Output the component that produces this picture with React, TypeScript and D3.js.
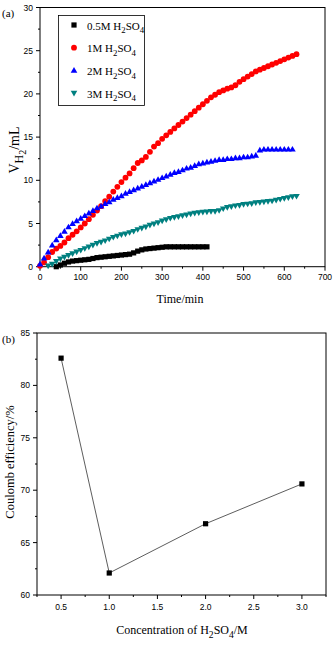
import React from 'react'
import * as d3 from 'd3'

// hydrogen volume vs. time for each acid concentration: [time (min), volume (mL)]
const half: [number, number][] = [
  [40, 0.0], [50, 0.2], [60, 0.4], [70, 0.55], [80, 0.65], [90, 0.7], [100, 0.75], [110, 0.8],
  [120, 0.85], [130, 0.95], [140, 1.05], [150, 1.1], [160, 1.15], [170, 1.2], [180, 1.25], [190, 1.3],
  [200, 1.35], [210, 1.4], [220, 1.45], [230, 1.6], [240, 1.8], [250, 1.95], [260, 2.05], [270, 2.1],
  [280, 2.15], [290, 2.2], [300, 2.25], [310, 2.3], [320, 2.3], [330, 2.3], [340, 2.3], [350, 2.3],
  [360, 2.3], [370, 2.3], [380, 2.3], [390, 2.3], [400, 2.3], [410, 2.3],
]
const one: [number, number][] = [
  [0, 0.1], [10, 0.5], [20, 1.1], [30, 1.7], [40, 2.1], [50, 2.4], [60, 2.8], [70, 3.3],
  [80, 3.7], [90, 4.1], [100, 4.55], [110, 5.0], [120, 5.5], [130, 6.0], [140, 6.5], [150, 7.0],
  [160, 7.6], [170, 8.1], [180, 8.7], [190, 9.25], [200, 9.8], [210, 10.3], [220, 10.8], [230, 11.4],
  [240, 12.0], [250, 12.3], [260, 12.7], [270, 13.3], [280, 13.9], [290, 14.3], [300, 14.8], [310, 15.2],
  [320, 15.6], [330, 16.0], [340, 16.4], [350, 16.8], [360, 17.2], [370, 17.6], [380, 18.0], [390, 18.4],
  [400, 18.8], [410, 19.2], [420, 19.6], [430, 19.9], [440, 20.2], [450, 20.4], [460, 20.6], [470, 20.75],
  [480, 21.0], [490, 21.4], [500, 21.7], [510, 22.0], [520, 22.3], [530, 22.6], [540, 22.8], [550, 23.0],
  [560, 23.2], [570, 23.4], [580, 23.6], [590, 23.8], [600, 24.0], [610, 24.2], [620, 24.4], [630, 24.6],
]
const two: [number, number][] = [
  [0, 0.3], [10, 1.0], [20, 1.7], [30, 2.5], [40, 3.1], [50, 3.6], [60, 4.1], [70, 4.6],
  [80, 5.0], [90, 5.3], [100, 5.6], [110, 5.9], [120, 6.2], [130, 6.5], [140, 6.8], [150, 7.0],
  [160, 7.3], [170, 7.5], [180, 7.8], [190, 8.0], [200, 8.2], [210, 8.5], [220, 8.7], [230, 8.9],
  [240, 9.1], [250, 9.3], [260, 9.5], [270, 9.7], [280, 9.9], [290, 10.1], [300, 10.3], [310, 10.5],
  [320, 10.7], [330, 10.9], [340, 11.0], [350, 11.2], [360, 11.4], [370, 11.5], [380, 11.7], [390, 11.9],
  [400, 12.0], [410, 12.1], [420, 12.2], [430, 12.3], [440, 12.4], [450, 12.4], [460, 12.5], [470, 12.5],
  [480, 12.6], [490, 12.6], [500, 12.7], [510, 12.7], [520, 12.8], [530, 12.9], [540, 13.5], [550, 13.6],
  [560, 13.6], [570, 13.6], [580, 13.6], [590, 13.6], [600, 13.6], [610, 13.6], [620, 13.6],
]
const three: [number, number][] = [
  [20, 0.1], [30, 0.3], [40, 0.6], [50, 0.9], [60, 1.1], [70, 1.3], [80, 1.5], [90, 1.7],
  [100, 1.9], [110, 2.1], [120, 2.3], [130, 2.5], [140, 2.7], [150, 2.85], [160, 3.0], [170, 3.2],
  [180, 3.4], [190, 3.55], [200, 3.7], [210, 3.8], [220, 3.95], [230, 4.1], [240, 4.3], [250, 4.45],
  [260, 4.6], [270, 4.8], [280, 4.95], [290, 5.1], [300, 5.3], [310, 5.45], [320, 5.6], [330, 5.7],
  [340, 5.8], [350, 5.9], [360, 6.0], [370, 6.1], [380, 6.2], [390, 6.25], [400, 6.3], [410, 6.35],
  [420, 6.4], [430, 6.4], [440, 6.5], [450, 6.7], [460, 6.85], [470, 6.95], [480, 7.05], [490, 7.1],
  [500, 7.2], [510, 7.25], [520, 7.3], [530, 7.4], [540, 7.45], [550, 7.5], [560, 7.55], [570, 7.6],
  [580, 7.7], [590, 7.8], [600, 7.9], [610, 8.0], [620, 8.1], [630, 8.15],
]

const legendConc = ['0.5M', '1M', '2M', '3M']

// coulomb efficiency vs. acid concentration
const concM = [0.5, 1.0, 2.0, 3.0]
const efficiency = [82.6, 62.1, 66.8, 70.6]

const timeTicks = [0, 100, 200, 300, 400, 500, 600, 700]
const volTicks = [0, 5, 10, 15, 20, 25, 30]
const concTicks = [0.5, 1.0, 1.5, 2.0, 2.5, 3.0]
const effTicks = [60, 65, 70, 75, 80, 85]

const sans = 'Liberation Sans, Arial, sans-serif'
const serif = 'Liberation Serif, Times New Roman, serif'

const Marker = ({ shape, x, y, color }: { shape: string; x: number; y: number; color: string }) => {
  if (shape === 'square') return <rect x={x - 2.6} y={y - 2.6} width={5.2} height={5.2} fill={color} />
  if (shape === 'circle') return <circle cx={x} cy={y} r={2.9} fill={color} />
  if (shape === 'up') return <path d={`M${x},${y - 3.3}L${x + 3.3},${y + 2.4}L${x - 3.3},${y + 2.4}Z`} fill={color} />
  return <path d={`M${x},${y + 3.3}L${x + 3.3},${y - 2.4}L${x - 3.3},${y - 2.4}Z`} fill={color} />
}

const H2SO4 = ({ size }: { size: number }) => (
  <>
    <tspan>H</tspan>
    <tspan fontSize={size * 0.8} dy={size * 0.35}>2</tspan>
    <tspan dy={-size * 0.35}>SO</tspan>
    <tspan fontSize={size * 0.8} dy={size * 0.35}>4</tspan>
  </>
)

const App = () => {
  // panel (a)
  const ax = d3.scaleLinear().domain([0, 700]).range([40, 325])
  const ay = d3.scaleLinear().domain([0, 30]).range([266.7, 7.5])
  const series = [
    { data: half, shape: 'square', color: '#000000' },
    { data: one, shape: 'circle', color: '#ff0000' },
    { data: two, shape: 'up', color: '#0000ff' },
    { data: three, shape: 'down', color: '#008080' },
  ]
  const timeMinor = d3.range(50, 700, 100)
  const volMinor = d3.range(2.5, 30, 5)

  // panel (b)
  const bx = d3.scaleLinear().domain([0.25, 3.25]).range([37, 326])
  const by = d3.scaleLinear().domain([60, 85]).range([595, 333])
  const concMinor = [0.25, 0.75, 1.25, 1.75, 2.25, 2.75, 3.25]
  const effMinor = [62.5, 67.5, 72.5, 77.5, 82.5]
  const line = d3.line<number>().x((_, i) => bx(concM[i])).y(d => by(d))

  return (
    <svg width={333} height={645} style={{ position: 'absolute', left: 0, top: 0, background: '#fff' }}>
      {/* ---------- (a) ---------- */}
      <text x={2} y={17} fontFamily={serif} fontSize={11}>(a)</text>
      <rect x={ax(0)} y={ay(30)} width={ax(700) - ax(0)} height={ay(0) - ay(30)} fill="none" stroke="#000" strokeWidth={1} />
      {timeTicks.map(t => (
        <g key={'tt' + t}>
          <line x1={ax(t)} x2={ax(t)} y1={ay(0)} y2={ay(0) + 4} stroke="#000" />
          <text x={ax(t)} y={ay(0) + 13} textAnchor="middle" fontFamily={sans} fontSize={8.5}>{t}</text>
        </g>
      ))}
      {timeMinor.map(t => <line key={'tm' + t} x1={ax(t)} x2={ax(t)} y1={ay(0)} y2={ay(0) + 2} stroke="#000" />)}
      {volTicks.map(v => (
        <g key={'vt' + v}>
          <line x1={ax(0) - 4} x2={ax(0)} y1={ay(v)} y2={ay(v)} stroke="#000" />
          <text x={ax(0) - 7} y={ay(v) + 3} textAnchor="end" fontFamily={sans} fontSize={8.5}>{v}</text>
        </g>
      ))}
      {volMinor.map(v => <line key={'vm' + v} x1={ax(0) - 2} x2={ax(0)} y1={ay(v)} y2={ay(v)} stroke="#000" />)}
      <text x={180} y={303} textAnchor="middle" fontFamily={serif} fontSize={12}>Time/min</text>
      <text transform="translate(19,150) rotate(-90)" textAnchor="middle" fontFamily={serif} fontSize={14}>
        <tspan>V</tspan>
        <tspan fontSize={12} dy={4}>H</tspan>
        <tspan fontSize={10} dy={3}>2</tspan>
        <tspan dy={-7}>/mL</tspan>
      </text>

      {series.map((s, i) => (
        <g key={'s' + i}>
          {s.data.map(([t, v]) => <Marker key={t} shape={s.shape} x={ax(t)} y={ay(v)} color={s.color} />)}
        </g>
      ))}

      <rect x={58.5} y={15.5} width={86} height={90} fill="#fff" stroke="#000" strokeWidth={0.8} />
      {series.map((s, i) => (
        <g key={'lg' + i}>
          <Marker shape={s.shape} x={74} y={25 + i * 22.7} color={s.color} />
          <text x={87} y={29.5 + i * 22.7} fontFamily={serif} fontSize={11}>
            <tspan>{legendConc[i]} </tspan>
            <H2SO4 size={11} />
          </text>
        </g>
      ))}

      {/* ---------- (b) ---------- */}
      <text x={2} y={343} fontFamily={serif} fontSize={11}>(b)</text>
      <rect x={bx(0.25)} y={by(85)} width={bx(3.25) - bx(0.25)} height={by(60) - by(85)} fill="none" stroke="#000" strokeWidth={1} />
      {concTicks.map(c => (
        <g key={'ct' + c}>
          <line x1={bx(c)} x2={bx(c)} y1={by(60)} y2={by(60) + 4} stroke="#000" />
          <text x={bx(c)} y={by(60) + 15} textAnchor="middle" fontFamily={sans} fontSize={8.5}>{c.toFixed(1)}</text>
        </g>
      ))}
      {concMinor.map(c => <line key={'cm' + c} x1={bx(c)} x2={bx(c)} y1={by(60)} y2={by(60) + 2} stroke="#000" />)}
      {effTicks.map(e => (
        <g key={'et' + e}>
          <line x1={bx(0.25) - 4} x2={bx(0.25)} y1={by(e)} y2={by(e)} stroke="#000" />
          <text x={bx(0.25) - 7} y={by(e) + 3} textAnchor="end" fontFamily={sans} fontSize={8.5}>{e}</text>
        </g>
      ))}
      {effMinor.map(e => <line key={'em' + e} x1={bx(0.25) - 2} x2={bx(0.25)} y1={by(e)} y2={by(e)} stroke="#000" />)}

      <path d={line(efficiency) || ''} fill="none" stroke="#333" strokeWidth={0.8} />
      {efficiency.map((e, i) => <Marker key={'p' + i} shape="square" x={bx(concM[i])} y={by(e)} color="#000" />)}

      <text x={182} y={634} textAnchor="middle" fontFamily={serif} fontSize={12}>
        <tspan>Concentration of </tspan>
        <H2SO4 size={12} />
        <tspan dy={-4.2}>/M</tspan>
      </text>
      <text transform="translate(14,462) rotate(-90)" textAnchor="middle" fontFamily={serif} fontSize={12.5}>
        Coulomb efficiency/%
      </text>
    </svg>
  )
}

export default App
